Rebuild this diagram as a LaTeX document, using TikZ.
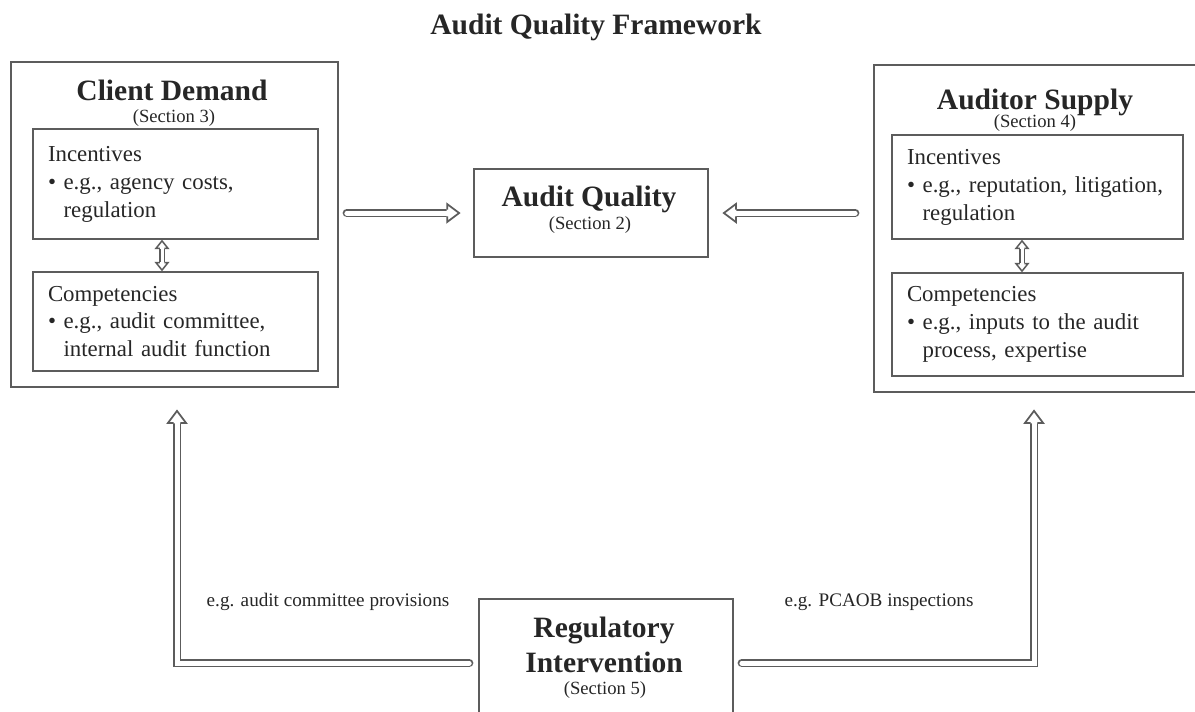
\documentclass[tikz,border=0pt]{standalone}
\usepackage{fontspec}
\setmainfont{Liberation Serif}
\usetikzlibrary{positioning,arrows.meta,calc}
\definecolor{linegray}{HTML}{5C5C5C}

\tikzset{
  hollowhead/.pic={
    \fill[white] (-0.01,0.18) -- (0.24,0) -- (-0.01,-0.18) -- cycle;
    \draw[linegray,line width=0.035cm] (0,0.0675) -- (0,0.18) -- (0.24,0) -- (0,-0.18) -- (0,-0.0675);
  },
  smallhead/.pic={
    \fill[white] (-0.01,0.12) -- (0.15,0) -- (-0.01,-0.12) -- cycle;
    \draw[linegray,line width=0.03cm] (0,0.045) -- (0,0.12) -- (0.15,0) -- (0,-0.12) -- (0,-0.045);
  }
}

\begin{document}
\begin{tikzpicture}[
  every node/.style={text=black!85},
  frame/.style={draw=linegray,line width=0.035cm},
  subbox/.style={draw=linegray,line width=0.035cm,align=left,inner xsep=0.3cm,font=\fontsize{13}{15.9}\selectfont},
  head/.style={font=\fontsize{16.8}{19.5}\selectfont\bfseries},
  sect/.style={font=\fontsize{10.6}{12}\selectfont},
  note/.style={font=\fontsize{10.9}{12}\selectfont},
  shaft/.style={draw=linegray,double=white,double distance=0.1cm,line width=0.035cm,line cap=round},
  thinshaft/.style={draw=linegray,double=white,double distance=0.06cm,line width=0.03cm}
]
  \useasboundingbox (0,0) rectangle (23.9,-14.22);

  \node[head] (title) at (11.92,-0.55) {Audit Quality Framework};

  % client side
  \node[frame,minimum width=6.54cm,minimum height=6.5cm] (client) at (3.49,-4.49) {};
  \node[head] (clienthead) at (3.44,-1.8) {Client Demand};
  \node[sect] (clientsect) at (3.48,-2.36) {(Section 3)};
  \node[subbox,text width=5.1cm,minimum height=2.2cm] (cinc) at (3.51,-3.68)
    {Incentives\\\textbullet\ e.g., agency costs,\\\phantom{\textbullet\ }regulation};
  \node[subbox,text width=5.1cm,minimum height=1.98cm] (ccomp) at (3.51,-6.43)
    {Competencies\\\textbullet\ e.g., audit committee,\\\phantom{\textbullet\ }internal audit function};
  \coordinate (cup) at ([xshift=-0.27cm,yshift=-0.17cm]cinc.south);
  \coordinate (cdown) at ([xshift=-0.27cm,yshift=0.17cm]ccomp.north);
  \draw[thinshaft] (cup) -- (cdown);
  \pic[rotate=90] at (cup) {smallhead};
  \pic[rotate=-90] at (cdown) {smallhead};

  % auditor side
  \node[frame,minimum width=6.62cm,minimum height=6.54cm] (supply) at (20.79,-4.57) {};
  \node[head] (supplyhead) at (20.7,-2.04) {Auditor Supply};
  \node[sect] (supplysect) at (20.7,-2.46) {(Section 4)};
  \node[subbox,text width=5.22cm,minimum height=2.08cm] (sinc) at (20.75,-3.74)
    {Incentives\\\textbullet\ e.g., reputation, litigation,\\\phantom{\textbullet\ }regulation};
  \node[subbox,text width=5.22cm,minimum height=2.06cm] (scomp) at (20.75,-6.49)
    {Competencies\\\textbullet\ e.g., inputs to the audit\\\phantom{\textbullet\ }process, expertise};
  \coordinate (sup) at ([xshift=-0.31cm,yshift=-0.17cm]sinc.south);
  \coordinate (sdown) at ([xshift=-0.31cm,yshift=0.17cm]scomp.north);
  \draw[thinshaft] (sup) -- (sdown);
  \pic[rotate=90] at (sup) {smallhead};
  \pic[rotate=-90] at (sdown) {smallhead};

  % centre
  \node[frame,minimum width=4.68cm,minimum height=1.76cm] (quality) at (11.82,-4.26) {};
  \node[head] (qualityhead) at (11.78,-3.98) {Audit Quality};
  \node[sect] (qualitysect) at (11.8,-4.5) {(Section 2)};
  \coordinate (qleft) at ([xshift=-0.52cm]quality.west);
  \coordinate (qright) at ([xshift=0.54cm]quality.east);
  \draw[shaft] ([xshift=0.16cm]client.east |- quality) -- (qleft);
  \pic at (qleft) {hollowhead};
  \draw[shaft] ([xshift=-0.36cm]supply.west |- quality) -- (qright);
  \pic[rotate=180] at (qright) {hollowhead};

  % regulator
  \node[frame,minimum width=5.08cm,minimum height=2.56cm] (reg) at (12.12,-13.26) {};
  \node[head,align=center] (reghead) at (12.08,-12.9) {Regulatory\\Intervention};
  \node[sect] (regsect) at (12.1,-13.8) {(Section 5)};
  \coordinate (cbase) at ([xshift=0.05cm,yshift=-0.7cm]client.south);
  \coordinate (sbase) at ([xshift=-0.11cm,yshift=-0.6cm]supply.south);
  \draw[shaft] ([xshift=-0.18cm]reg.west) -| (cbase);
  \pic[rotate=90] at (cbase) {hollowhead};
  \draw[shaft] ([xshift=0.16cm]reg.east) -| (sbase);
  \pic[rotate=90] at (sbase) {hollowhead};
  \node[note] (leftnote) at (6.56,-12.04) {e.g. audit committee provisions};
  \node[note] (rightnote) at (17.58,-12.04) {e.g. PCAOB inspections};
\end{tikzpicture}
\end{document}
